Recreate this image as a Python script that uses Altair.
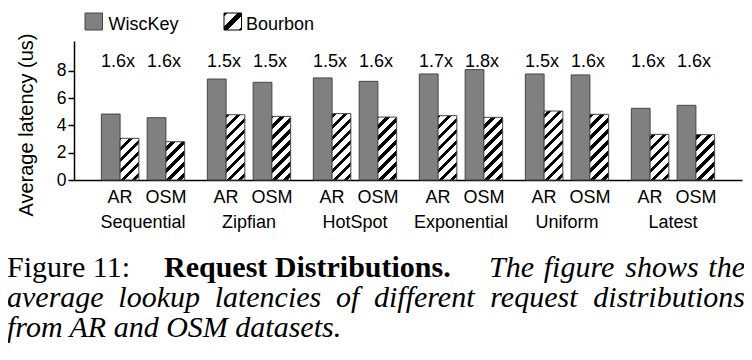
import altair as alt
import pandas as pd

# ---------------- data ----------------
dists = ["Sequential", "Zipfian", "HotSpot", "Exponential", "Uniform", "Latest"]
datasets = ["AR", "OSM"]
systems = ["WiscKey", "Bourbon"]
wisckey = [4.84, 4.57, 7.41, 7.17, 7.49, 7.24, 7.78, 8.10, 7.78, 7.71, 5.26, 5.48]
bourbon = [3.06, 2.81, 4.79, 4.67, 4.87, 4.62, 4.72, 4.60, 5.06, 4.82, 3.35, 3.33]
speedups = ["1.6x", "1.6x", "1.5x", "1.5x", "1.5x", "1.6x",
            "1.7x", "1.8x", "1.5x", "1.6x", "1.6x", "1.6x"]
y_ticks = [0, 2, 4, 6, 8]

caption_l1_regular = "Figure 11:"
caption_l1_bold = "Request Distributions."
caption_l1_italic = "The figure shows the"
caption_l2 = "average lookup latencies of different request distributions"
caption_l3 = "from AR and OSM datasets."

rows = []
for i, d in enumerate(dists):
    for j, ds in enumerate(datasets):
        k = i * 2 + j
        rows.append({"id": k, "dist": d, "dataset": ds, "system": "WiscKey",
                     "value": wisckey[k], "speedup": speedups[k]})
        rows.append({"id": k, "dist": d, "dataset": ds, "system": "Bourbon",
                     "value": bourbon[k], "speedup": speedups[k]})
df = pd.DataFrame(rows)
dummy = alt.Data(values=[{"k": 0}])

# ---------------- layout ----------------
SANS = "Liberation Sans"
SERIF = "Liberation Serif"
PAGE_LEFT, PAGE_TOP = 74, 41          # plot origin in page pixels
PLOT_W, PLOT_H = 668, 139
YMAX = 10.2
PX_PER_UNIT = PLOT_H / YMAX
PI_OUT, PO_OUT = 0.214, 0.258
PI_IN = 0.181
step = PLOT_W / (len(dists) - PI_OUT + 2 * PO_OUT)
band = step * (1 - PI_OUT)
step_in = band / (2 - PI_IN)
pair_w = step_in * (1 - PI_IN)
BAR_W = pair_w / 2


def bar_shift(dataset_idx, system_idx):
    # pixel shift of a bar's centre from the centre of its distribution band
    return dataset_idx * step_in + (system_idx + 0.5) * BAR_W - band / 2


def pair_shift(dataset_idx):
    return dataset_idx * step_in + pair_w / 2 - band / 2


BAR_STROKE = "#454545"
GRAY = "#808080"


def px(x):
    return x - PAGE_LEFT


def py(y):
    return y - PAGE_TOP


def hatch(W, H, P=11.0, B=4.5):
    L = W + H
    s = L / (W * W + H * H)
    stops = [{"offset": 0, "color": "white"}]
    u = (H % P) - P
    while u < L:
        a = max(u, 0.0)
        b = min(u + B, L)
        if b > a:
            stops += [{"offset": a / L, "color": "white"},
                      {"offset": a / L, "color": "black"},
                      {"offset": b / L, "color": "black"},
                      {"offset": b / L, "color": "white"}]
        u += P
    stops.append({"offset": 1, "color": "white"})
    return {"gradient": "linear", "x1": 0, "y1": 0,
            "x2": W * s, "y2": H * s, "stops": stops}


X = alt.X("dist:N", sort=dists,
          scale=alt.Scale(domain=dists, paddingInner=PI_OUT, paddingOuter=PO_OUT),
          axis=alt.Axis(title=None, ticks=False, tickSize=0, labelPadding=33.5,
                        labelFontSize=18, labelFont=SANS, labelAngle=0,
                        labelColor="black", domainColor="black", domainWidth=1.5,
                        grid=False))
Y = alt.Y("value:Q", scale=alt.Scale(domain=[0, YMAX], nice=False, zero=True),
          axis=alt.Axis(values=y_ticks, title="Average latency (us)", grid=False,
                        labelFontSize=17.5, labelFont=SANS, labelColor="black",
                        labelPadding=2, tickSize=6, tickColor="black", tickWidth=1.5,
                        domainColor="black", domainWidth=1.5,
                        titleFont=SANS, titleFontSize=20, titleFontWeight="normal",
                        titleColor="black", titleX=-48, titleY=83.5, titleAngle=270,
                        titleAlign="center", titleBaseline="middle"))

base = alt.Chart(df)
layers = []

# WiscKey bars
for j, ds in enumerate(datasets):
    layers.append(
        base.transform_filter((alt.datum.system == "WiscKey") & (alt.datum.dataset == ds))
        .mark_bar(width=BAR_W, xOffset=bar_shift(j, 0), fill=GRAY,
                  stroke=BAR_STROKE, strokeWidth=1)
        .encode(x=X, y=Y)
    )
# Bourbon bars (hatched)
for k, v in enumerate(bourbon):
    j = k % 2
    layers.append(
        base.transform_filter((alt.datum.system == "Bourbon") & (alt.datum.id == k))
        .mark_bar(width=BAR_W, xOffset=bar_shift(j, 1), fill=hatch(BAR_W, v * PX_PER_UNIT),
                  stroke=BAR_STROKE, strokeWidth=1)
        .encode(x=X, y=Y)
    )

# speedup and dataset labels
for j, ds in enumerate(datasets):
    sub = base.transform_filter((alt.datum.system == "WiscKey") & (alt.datum.dataset == ds))
    layers.append(
        sub.mark_text(font=SANS, fontSize=18, color="black", baseline="alphabetic",
                      xOffset=pair_shift(j) - 2)
        .encode(x=X, y=alt.value(py(66.7)), text="speedup:N")
    )
    layers.append(
        sub.mark_text(font=SANS, fontSize=18, color="black", baseline="alphabetic",
                      xOffset=pair_shift(j))
        .encode(x=X, y=alt.value(py(202.7)), text="dataset:N")
    )


# legend
def rect(x1, x2, y1, y2, fill, stroke):
    return alt.Chart(dummy).mark_rect(fill=fill, stroke=stroke, strokeWidth=1).encode(
        x=alt.value(px(x1)), x2=alt.value(px(x2)), y=alt.value(py(y1)), y2=alt.value(py(y2)))


def text(s, x, y, size, font=SANS, style="normal", weight="normal", align="left"):
    return alt.Chart(dummy).mark_text(
        text=s, font=font, fontSize=size, fontStyle=style, fontWeight=weight,
        align=align, baseline="alphabetic", color="black"
    ).encode(x=alt.value(px(x)), y=alt.value(py(y)))


legend_swatch = {"gradient": "linear", "x1": 0, "y1": 0, "x2": 1, "y2": 1,
                 "stops": [{"offset": 0, "color": "black"}, {"offset": 0.1, "color": "black"},
                           {"offset": 0.1, "color": "white"}, {"offset": 0.4, "color": "white"},
                           {"offset": 0.4, "color": "black"}, {"offset": 0.6, "color": "black"},
                           {"offset": 0.6, "color": "white"}, {"offset": 0.9, "color": "white"},
                           {"offset": 0.9, "color": "black"}, {"offset": 1, "color": "black"}]}
layers.append(rect(85, 102.5, 13, 30, GRAY, BAR_STROKE))
layers.append(text(systems[0], 108.5, 30, 18))
layers.append(rect(224, 241.5, 13, 30, legend_swatch, "black"))
layers.append(text(systems[1], 246, 30, 18))

# caption (Times metrics for justification)
ITALIC_W = {"a": 500, "b": 500, "c": 444, "d": 500, "e": 444, "f": 278, "g": 500, "h": 500,
            "i": 278, "k": 444, "l": 278, "m": 722, "n": 500, "o": 500, "p": 500, "q": 500,
            "r": 389, "s": 389, "t": 278, "u": 500, "v": 444, "w": 667, "y": 444, "T": 556}
CAP = 30


def justified(words, x0, x1, y):
    widths = [sum(ITALIC_W.get(ch, 500) for ch in w) * CAP / 1000 for w in words]
    gap = (x1 - x0 - sum(widths)) / (len(words) - 1)
    out = []
    x = x0
    for i, w in enumerate(words):
        if i == len(words) - 1:
            out.append(text(w, x1, y, CAP, SERIF, "italic", align="right"))
        else:
            out.append(text(w, x, y, CAP, SERIF, "italic"))
        x += widths[i] + gap
    return out


layers.append(text(caption_l1_regular, 7, 277, CAP, SERIF))
layers.append(text(caption_l1_bold, 164, 277, CAP, SERIF, weight="bold"))
layers += justified(caption_l1_italic.split(" "), 489, 745, 277)
layers += justified(caption_l2.split(" "), 7, 745, 307)
layers.append(text(caption_l3, 7, 337, CAP, SERIF, "italic"))

chart = alt.layer(*layers).properties(
    width=PLOT_W, height=PLOT_H,
    padding={"left": PAGE_LEFT - 8, "top": PAGE_TOP - 8, "right": 736 - (PAGE_LEFT - 8) - PLOT_W,
             "bottom": 166},
    autosize=alt.AutoSizeParams(type="none"),
).configure_view(strokeWidth=0)

chart.save("out.html", embed_options={"renderer": "svg", "actions": False})
